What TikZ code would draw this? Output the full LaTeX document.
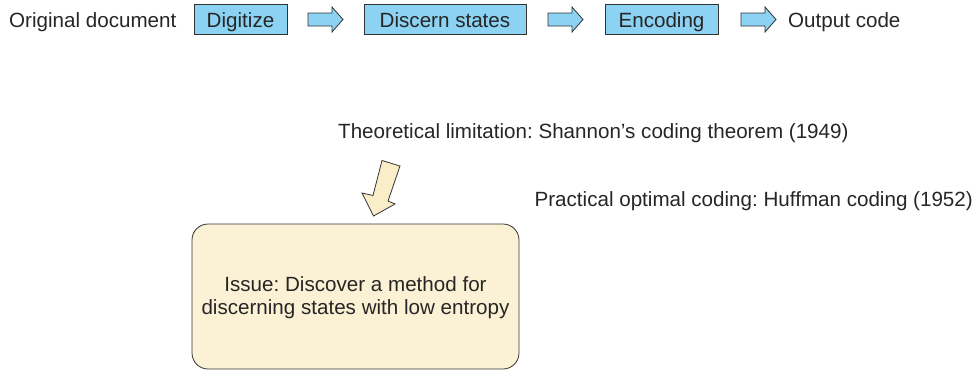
\documentclass[tikz,border=0pt]{standalone}
\usepackage{fontspec}
\setmainfont{Liberation Sans}
\frenchspacing
\begin{document}
\begin{tikzpicture}[x=1pt,y=-1pt,
  every node/.style={font=\fontsize{20.6}{24}\selectfont, text=black!85, inner sep=0pt},
  stepbox/.style={draw=black!80, line width=0.8pt, fill=skyfill, minimum height=30pt},
  flowarrow/.style={draw=black!80, line width=0.8pt, fill=skyfill, line join=miter},
  issuebox/.style={draw=black!80, line width=0.8pt, fill=creamfill, rounded corners=16pt},
  bigarrow/.style={draw=black!80, line width=0.8pt, fill=creamarrow, line join=miter}]
\definecolor{skyfill}{RGB}{140,210,242}
\definecolor{creamfill}{RGB}{251,241,212}
\definecolor{creamarrow}{RGB}{250,238,200}
\useasboundingbox (0,0) rectangle (977,370);

% processing chain: boxes drawn as frames, labels set on a common baseline
\node[stepbox, minimum width=93pt] (dig) at (240.5,19) {};
\node[stepbox, minimum width=162pt] (dis) at (445,19) {};
\node[stepbox, minimum width=113pt] (enc) at (661.5,19) {};
\node[anchor=base west] (orig) at (9,27.5) {Original document};
\node[anchor=base] (digt) at (dig.center |- 0,27.5) {Digitize};
\node[anchor=base] (dist) at (dis.center |- 0,27.5) {Discern states};
\node[anchor=base] (enct) at (enc.center |- 0,27.5) {Encoding};
\node[anchor=base west] (out) at (788,27.5) {Output code};

% block arrows between the stages
\coordinate (a1) at (308,19.5);
\coordinate (a2) at (548,19.5);
\coordinate (a3) at (741,19.5);
\foreach \a in {a1,a2,a3}
  \draw[flowarrow] (\a) ++(0,-6.5) -- ++(24,0) -- ++(0,-6) -- ++(11,12.5)
    -- ++(-11,12.5) -- ++(0,-6) -- ++(-24,0) -- cycle;

% notes on coding limits
\node[anchor=base west] (theo) at (338,138) {Theoretical limitation: Shannon’s coding theorem (1949)};
\node[anchor=base east] (prac) at (973,206) {Practical optimal coding: Huffman coding (1952)};

% issue box
\draw[issuebox] (192,224) rectangle (519,369);
\coordinate (ic) at (355.5,0);
\node[anchor=base] (issue1) at (ic |- 0,291) {Issue: Discover a method for};
\node[anchor=base] (issue2) at (ic |- 0,314.5) {discerning states with low entropy};

% slanted arrow pointing down onto the issue box
\draw[bigarrow] (382,160.5) -- (400,166) -- (388,201) -- (395,204)
  -- (373.5,216) -- (362,193) -- (373,195.5) -- cycle;
\end{tikzpicture}
\end{document}
